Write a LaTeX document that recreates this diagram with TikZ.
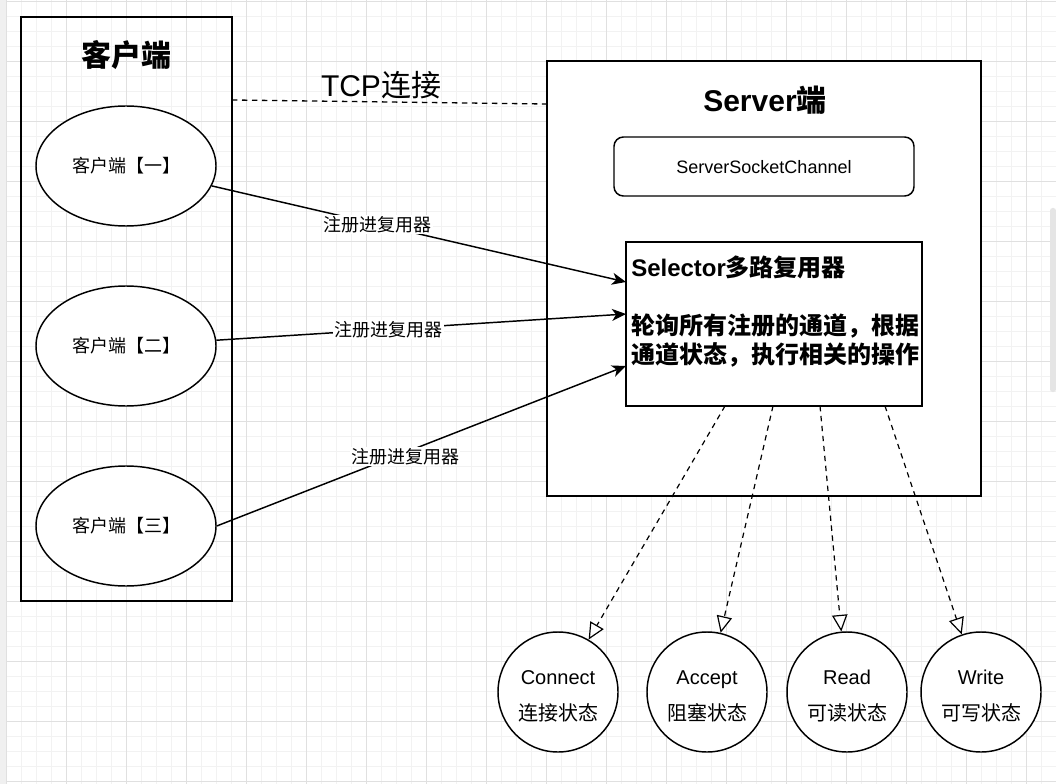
\documentclass[tikz,border=0pt]{standalone}
\usepackage{fontspec}
\setmainfont{Liberation Sans}
\newfontfamily\cjk{Noto Sans CJK SC}
\newcommand\zh[1]{{\cjk #1}}
\usetikzlibrary{shapes.geometric,arrows.meta,fit}
\begin{document}
\begin{tikzpicture}[x=0.75pt,y=-0.75pt,
  minorgrid/.style={draw=black!5, line width=0.75pt},
  majorgrid/.style={draw=black!12, line width=0.75pt},
  box/.style={draw, line width=1.1pt, inner sep=0pt},
  lbl/.style={font=\fontsize{13.5pt}{16pt}\selectfont},
  statelbl/.style={font=\fontsize{15pt}{18pt}\selectfont, align=center, inner sep=0pt},
  bigtitle/.style={font=\fontsize{22.5pt}{27pt}\selectfont\bfseries},
  client/.style={ellipse, draw, line width=1.1pt, fill=white, minimum width=135pt, minimum height=90pt, inner sep=0pt, lbl},
  state/.style={circle, draw, line width=1.1pt, fill=white, minimum size=90pt, inner sep=0pt},
  reg/.style={line width=1.1pt, -{Stealth[length=10.5pt, width=9pt, inset=3pt]}},
  regl/.style={lbl, fill=white, inner sep=1pt},
  dasharrow/.style={line width=0.9pt, dash pattern=on 4pt off 3.5pt, -{Triangle[length=12.5pt, width=11.5pt, fill=white, line width=0.9pt, sep=0pt]}}]
\useasboundingbox (0,0) rectangle (1056,784);
\fill[white] (0,0) rectangle (1056,784);
% grid
\foreach \i in {0,...,69} \draw[minorgrid] (6.7+15*\i,0) -- (6.7+15*\i,784);
\foreach \j in {0,...,52} \draw[minorgrid] (6.7,1.7+15*\j) -- (1056,1.7+15*\j);
\foreach \i in {0,...,17} \draw[majorgrid] (6.7+60*\i,0) -- (6.7+60*\i,784);
\foreach \j in {0,...,13} \draw[majorgrid] (6.7,1.7+60*\j) -- (1056,1.7+60*\j);
\fill[black!6] (0,0) rectangle (6,784);
\fill[black!10, rounded corners=2pt] (1050,208) rectangle (1056,392);

% client container
\node[box, fit={(21,17) (232,601)}] (clientbox) {};
\node[bigtitle] (ctitle) at (126,55) {\zh{客户端}};

% server container
\node[box, fill=white, fit={(547,61) (981,496)}] (serverbox) {};
\node[bigtitle] (stitle) at (765,100) {Server\zh{端}};
\node[box, rounded corners=7pt, fit={(614,137) (914,196)}] (ssc) {};
\node[lbl] (ssctext) at (764,167) {ServerSocketChannel};
\node[box, fill=white, fit={(626,242) (922,406)}] (sel) {};
\node[anchor=west, align=left, inner sep=0pt, font=\fontsize{18pt}{21.75pt}\selectfont\bfseries] (seltext) at (631,311.5)
  {Selector\zh{多路复用器}\\[21.75pt]\zh{轮询所有注册的通道，根据}\\\zh{通道状态，执行相关的操作}};

% TCP
\coordinate (ta) at (232,100);
\coordinate (tb) at (547,104);
\draw[line width=1pt, dash pattern=on 4pt off 3.5pt] (ta) -- (tb);
\node[font=\fontsize{22.5pt}{27pt}\selectfont] (tcp) at (381,85) {TCP\zh{连接}};

% clients
\node[client] (c1) at (126,166) {\zh{客户端【一】}};
\node[client] (c2) at (126,346) {\zh{客户端【二】}};
\node[client] (c3) at (126,526) {\zh{客户端【三】}};

\coordinate (s1) at (626,282);
\coordinate (s2) at (626,314);
\coordinate (s3) at (626,366);
\draw[reg] (c1) -- node[regl, pos=0.40] {\zh{注册进复用器}} (s1);
\draw[reg] (c2) -- node[regl, pos=0.42] {\zh{注册进复用器}} (s2);
\draw[reg] (c3.east) -- node[regl, pos=0.46, yshift=-3pt] {\zh{注册进复用器}} (s3);

% states
\node[state] (st1) at (558,692) {};
\node[state] (st2) at (707,692) {};
\node[state] (st3) at (847,692) {};
\node[state] (st4) at (981,692) {};
\node[statelbl] (st1t) at (558,696) {Connect\\[9pt]\zh{连接状态}};
\node[statelbl] (st2t) at (707,696) {Accept\\[9pt]\zh{阻塞状态}};
\node[statelbl] (st3t) at (847,696) {Read\\[9pt]\zh{可读状态}};
\node[statelbl] (st4t) at (981,696) {Write\\[9pt]\zh{可写状态}};

\coordinate (d1) at (725,406);
\coordinate (d2) at (773,406);
\coordinate (d3) at (820,406);
\coordinate (d4) at (885,406);
\draw[dasharrow] (d1) -- (st1);
\draw[dasharrow] (d2) -- (st2);
\draw[dasharrow] (d3) -- (st3);
\draw[dasharrow] (d4) -- (st4);
\end{tikzpicture}
\end{document}
